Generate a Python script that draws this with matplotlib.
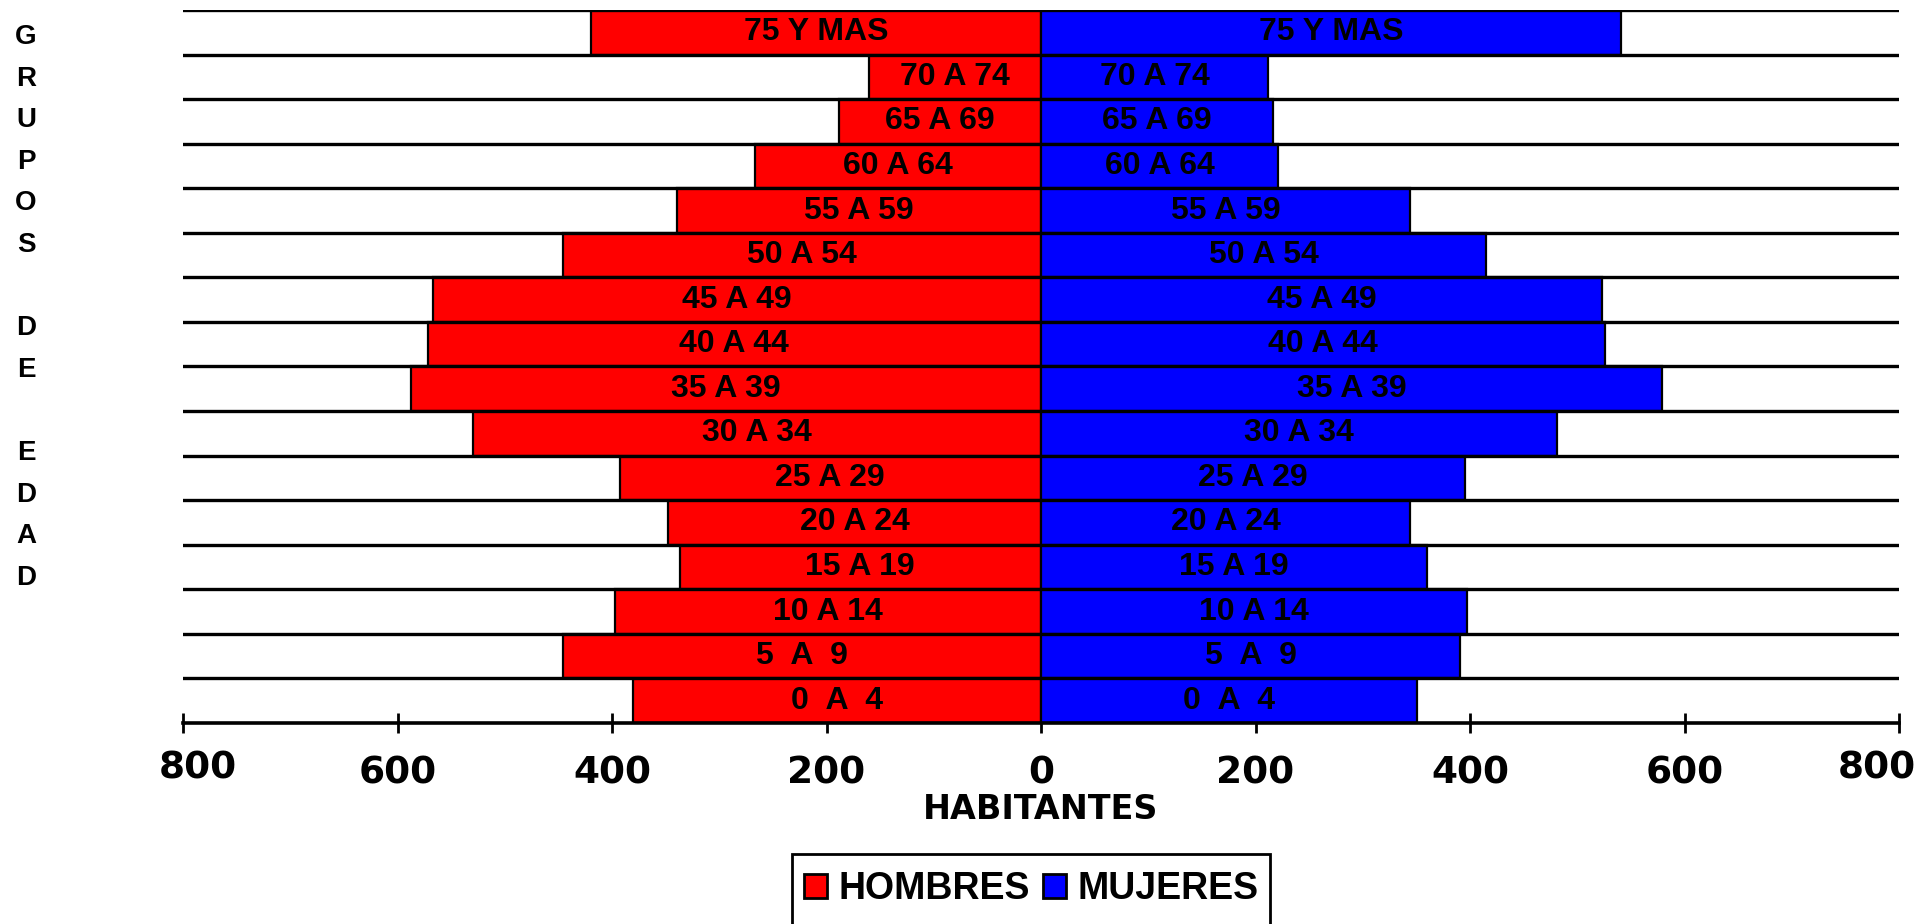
import matplotlib
matplotlib.use("Agg")
import matplotlib.pyplot as plt
from matplotlib.patches import Patch, Rectangle
import matplotlib.transforms as mtransforms
import numpy as np

plt.rcParams['font.family'] = ['Liberation Sans', 'DejaVu Sans']
plt.rcParams['font.weight'] = 'bold'

grupos = ["0  A  4", "5  A  9", "10 A 14", "15 A 19", "20 A 24", "25 A 29",
          "30 A 34", "35 A 39", "40 A 44", "45 A 49", "50 A 54", "55 A 59",
          "60 A 64", "65 A 69", "70 A 74", "75 Y MAS"]
hombres = [380, 446, 397, 337, 348, 393, 530, 587, 572, 567, 446, 339, 267, 188, 160, 420]
mujeres = [351, 391, 397, 360, 344, 395, 481, 579, 526, 523, 415, 344, 221, 216, 212, 541]
ticks = [-800, -600, -400, -200, 0, 200, 400, 600, 800]
tick_labels = ["800", "600", "400", "200", "0", "200", "400", "600", "800"]
side_label = "GRUPOS DE EDAD"

W, H = 1914, 924
fig = plt.figure(figsize=(W / 100, H / 100), dpi=100)
ax = fig.add_axes([183 / W, 1 - 723 / H, (1899 - 183) / W, (723 - 10) / H])

y = np.arange(len(grupos))
hm = -np.array(hombres)
mj = np.array(mujeres)
ax.barh(y, hm, height=1.0, color='#FF0000', edgecolor='black', linewidth=1.6, zorder=2)
ax.barh(y, mj, height=1.0, color='#0000FF', edgecolor='black', linewidth=1.6, zorder=2)

for i, g in enumerate(grupos):
    ax.text(hm[i] / 2, y[i], g, ha='center', va='center', fontsize=23,
            fontweight='bold', color='black', zorder=4)
    ax.text(mj[i] / 2, y[i], g, ha='center', va='center', fontsize=23,
            fontweight='bold', color='black', zorder=4)

for b in np.arange(0.5, len(grupos), 1.0):
    ax.axhline(b, color='black', linewidth=2.4, zorder=3)

ax.set_xlim(-800, 800)
ax.set_ylim(-0.5, len(grupos) - 0.5)
ax.set_yticks([])
ax.set_xticks(ticks)
ax.set_xticklabels(tick_labels, fontsize=27, fontweight='bold', family='DejaVu Sans')
ax.tick_params(axis='x', direction='inout', length=15, width=2, pad=16)
for s in ['top', 'right', 'left']:
    ax.spines[s].set_visible(False)
ax.spines['bottom'].set_linewidth(2.6)
ax.spines['bottom'].set_zorder(5)
ax.set_xlabel("HABITANTES", fontsize=24, fontweight='bold', labelpad=1,
              family='DejaVu Sans')

# end tick labels are nudged inward and slightly up, as in the reference
labs = ax.get_xticklabels()
labs[0].set_transform(labs[0].get_transform() +
                      mtransforms.ScaledTranslation(15 / 100, 5 / 100, fig.dpi_scale_trans))
labs[-1].set_transform(labs[-1].get_transform() +
                       mtransforms.ScaledTranslation(-22 / 100, 5 / 100, fig.dpi_scale_trans))

# vertical side label
step = 41.6
for i, ch in enumerate(side_label):
    if ch.strip():
        fig.text(26 / W, 1 - (37 + i * step) / H, ch, ha='center', va='center',
                 fontsize=20, fontweight='bold')

handles = [Patch(facecolor='#FF0000', edgecolor='black', linewidth=2, label='HOMBRES'),
           Patch(facecolor='#0000FF', edgecolor='black', linewidth=2, label='MUJERES')]
leg = fig.legend(handles=handles, ncol=2, loc='upper center',
                 bbox_to_anchor=(1031 / W, 1 - 860 / H), fontsize=27,
                 frameon=False, handlelength=0.63, handleheight=0.63,
                 handletextpad=0.29, columnspacing=0.35, borderpad=0.3, borderaxespad=0)
for t in leg.get_texts():
    t.set_fontweight('bold')

# legend frame: top edge visible, bottom runs past the figure edge as in the reference
fig.canvas.draw()
bb = leg.get_window_extent().transformed(fig.transFigure.inverted())
frame = Rectangle((bb.x0, -0.1), bb.width, (1 - 854 / H) + 0.1,
                  transform=fig.transFigure, facecolor='none', edgecolor='black',
                  linewidth=2, clip_on=False)
fig.add_artist(frame)

fig.savefig("out.png", dpi=100)
